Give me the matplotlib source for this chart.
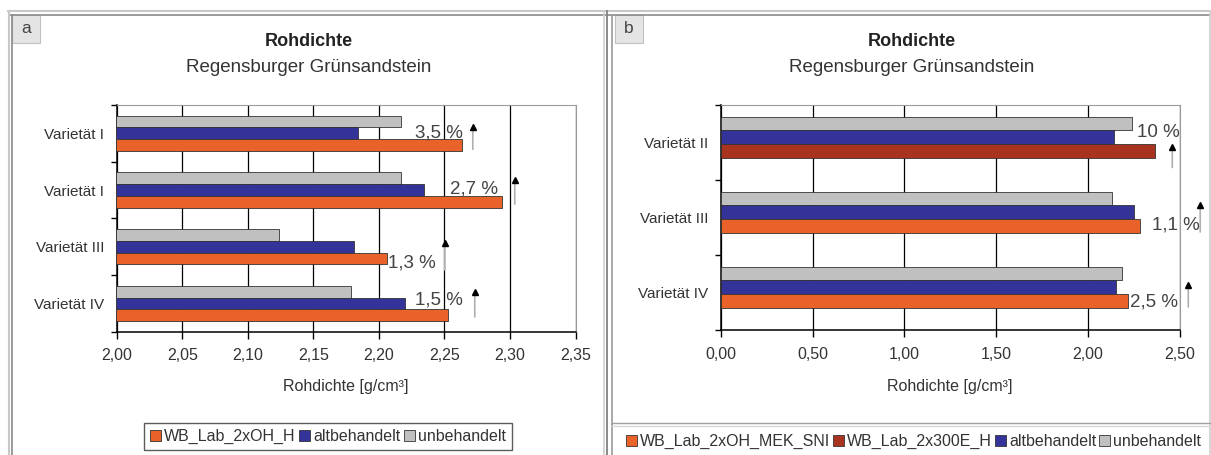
import numpy as np
import matplotlib.pyplot as plt
from matplotlib.lines import Line2D
from matplotlib.patches import Rectangle, Patch
from matplotlib.ticker import FuncFormatter, MultipleLocator, FixedLocator

plt.rcParams['font.family'] = ['Liberation Sans', 'DejaVu Sans']

# Daten Diagramm a
kat_a = ['Varietät I', 'Varietät I', 'Varietät III', 'Varietät IV']
wb_a = [2.263, 2.294, 2.206, 2.253]
alt_a = [2.184, 2.234, 2.181, 2.220]
unb_a = [2.217, 2.217, 2.124, 2.179]
pct_a = ['3,5 %', '2,7 %', '1,3 %', '1,5 %']

# Daten Diagramm b
kat_b = ['Varietät II', 'Varietät III', 'Varietät IV']
wb_b = [np.nan, 2.284, 2.215]
wb300_b = [2.366, np.nan, np.nan]
alt_b = [2.142, 2.251, 2.153]
unb_b = [2.239, 2.130, 2.184]
pct_b = ['10 %', '1,1 %', '2,5 %']

ORANGE = '#e8622a'
BLAU = '#333399'
GRAU = '#c0c0c0'
ROT = '#a8341f'

W, H = 1211, 455
fig = plt.figure(figsize=(W / 100, H / 100), dpi=100)


def fx(px):
    return px / W


def fy(py):
    return 1 - py / H


def komma(v, pos):
    return ('%.2f' % v).replace('.', ',')


def panel(rect, kat, serien, xmin, xmax, step, h, off):
    ax = fig.add_axes(rect)
    y = np.arange(len(kat))
    for slot, liste in enumerate(serien):
        for werte, farbe in liste:
            werte = np.array(werte, dtype=float)
            ok = ~np.isnan(werte)
            ax.barh(y[ok] + off + (slot - 1) * h, werte[ok], height=h,
                    color=farbe, edgecolor='#333333', lw=0.6, zorder=3)
    ax.set_xlim(xmin, xmax)
    ax.set_ylim(len(kat) - 0.5, -0.5)
    ax.xaxis.set_major_locator(MultipleLocator(step))
    ax.xaxis.set_major_formatter(FuncFormatter(komma))
    ax.set_yticks(y)
    ax.set_yticklabels(kat)
    ax.yaxis.set_minor_locator(FixedLocator(np.arange(len(kat) + 1) - 0.5))
    ax.tick_params(axis='y', which='major', length=0, pad=9, labelsize=11, labelcolor='#333333')
    ax.tick_params(axis='y', which='minor', length=4, width=1, color='black', direction='out')
    ax.tick_params(axis='x', length=5, width=1, direction='out', pad=7, labelsize=11.5, labelcolor='#333333')
    ax.xaxis.grid(True, color='black', lw=0.9)
    ax.set_axisbelow(True)
    for s in ['left', 'bottom']:
        ax.spines[s].set_color('black')
        ax.spines[s].set_linewidth(1.1)
    for s in ['top', 'right']:
        ax.spines[s].set_color('#9a9a9a')
        ax.spines[s].set_linewidth(0.8)
    return ax


def pfeil(ax, x, y0, y1):
    ax.annotate('', xy=(x, y1), xytext=(x, y0), annotation_clip=False,
                arrowprops=dict(arrowstyle='-', color='#b0b0b0', lw=1.2))
    ax.plot([x], [y1], marker='^', color='black', ms=5, clip_on=False, zorder=5)


# Panel a
ax_a = panel([fx(116.7), fy(331.7), fx(575.6) - fx(116.7), fy(105) - fy(331.7)],
             kat_a, [[(unb_a, GRAU)], [(alt_a, BLAU)], [(wb_a, ORANGE)]],
             2.0, 2.35, 0.05, 0.206, 0.0)

# Beschriftung (x, y, ha) und Pfeil (x, y unten, y oben)
lab_a = [(2.264, 0.0, 'right'), (2.2906, 0.98, 'right'), (2.2068, 2.29, 'left'), (2.264, 2.94, 'right')]
arr_a = [(2.2716, 0.33, -0.11), (2.3036, 1.30, 0.82), (2.2502, 2.46, 1.93), (2.2731, 3.29, 2.80)]
for t, (x, yy, ha), (xa, y0, y1) in zip(pct_a, lab_a, arr_a):
    ax_a.text(x, yy, t, ha=ha, va='center', fontsize=13.5, color='#444444', zorder=4)
    pfeil(ax_a, xa, y0, y1)

# Panel b
ax_b = panel([fx(720.7), fy(330), fx(1180) - fx(720.7), fy(105) - fy(330)],
             kat_b, [[(unb_b, GRAU)], [(alt_b, BLAU)], [(wb_b, ORANGE), (wb300_b, ROT)]],
             0.0, 2.5, 0.5, 0.182, -0.07)

lab_b = [(2.267, -0.13, 'left'), (2.349, 1.10, 'left'), (2.229, 2.13, 'left')]
arr_b = [(2.458, 0.37, 0.06), (2.610, 1.23, 0.83), (2.545, 2.23, 1.90)]
for t, (x, yy, ha), (xa, y0, y1) in zip(pct_b, lab_b, arr_b):
    ax_b.text(x, yy, t, ha=ha, va='center', fontsize=13.5, color='#444444', zorder=4, clip_on=False)
    pfeil(ax_b, xa, y0, y1)

# Titel und Achsenbeschriftung
for cx, ax_cx in [(309, 346), (912, 950)]:
    fig.text(fx(cx), fy(41.7), 'Rohdichte', ha='center', va='center', fontsize=13,
             fontweight='bold', color='#222222')
    fig.text(fx(cx), fy(67), 'Regensburger Grünsandstein', ha='center', va='center',
             fontsize=13.5, color='#333333')
    fig.text(fx(ax_cx), fy(387), 'Rohdichte [g/cm³]', ha='center', va='center',
             fontsize=11.5, color='#333333')

# Legenden
def quad(c):
    return Patch(facecolor=c, edgecolor='#333333', lw=0.6)


leg_a = fig.legend([quad(ORANGE), quad(BLAU), quad(GRAU)],
                   ['WB_Lab_2xOH_H', 'altbehandelt', 'unbehandelt'],
                   loc='center', bbox_to_anchor=(fx(328), fy(436.5)), ncol=3,
                   frameon=True, fancybox=False, edgecolor='#333333', fontsize=11.5,
                   handlelength=0.7, handleheight=0.7, handletextpad=0.2,
                   columnspacing=0.2, borderpad=0.35, borderaxespad=0)
leg_a.get_frame().set_linewidth(1.0)
for t in leg_a.get_texts():
    t.set_color('#333333')

leg_b = fig.legend([quad(ORANGE), quad(ROT), quad(BLAU), quad(GRAU)],
                   ['WB_Lab_2xOH_MEK_SNI', 'WB_Lab_2x300E_H', 'altbehandelt', 'unbehandelt'],
                   loc='center', bbox_to_anchor=(fx(913.5), fy(441.5)), ncol=4,
                   frameon=False, fontsize=11.5,
                   handlelength=0.7, handleheight=0.7, handletextpad=0.2,
                   columnspacing=0.15, borderpad=0.2, borderaxespad=0)
for t in leg_b.get_texts():
    t.set_color('#333333')

# Rahmen der beiden Diagrammfenster
def linie(x0, y0, x1, y1, c, lw):
    fig.add_artist(Line2D([fx(x0), fx(x1)], [fy(y0), fy(y1)], color=c, lw=lw))


linie(8, 11, 1211, 11, '#c8c8c8', 1.5)
linie(10, 14.5, 1211, 14.5, '#8a8a8a', 1.2)
linie(8.5, 11, 8.5, 455, '#c8c8c8', 1.5)
linie(11.5, 14.5, 11.5, 455, '#8a8a8a', 1.2)
linie(603.5, 11, 603.5, 455, '#d0d0d0', 1.2)
linie(606.5, 11, 606.5, 455, '#8a8a8a', 1.4)
linie(611.5, 14.5, 611.5, 455, '#9a9a9a', 1.2)
linie(1209.5, 11, 1209.5, 455, '#d0d0d0', 1.2)
linie(612, 423, 1211, 423, '#a0a0a0', 1.0)
linie(612, 425.5, 1211, 425.5, '#d8d8d8', 1.0)

for x0, t in [(12, 'a'), (615, 'b')]:
    fig.add_artist(Rectangle((fx(x0), fy(43)), fx(28), 28 / H, transform=fig.transFigure,
                             facecolor='#e4e4e4', edgecolor='#c0c0c0', lw=0.8))
    fig.text(fx(x0 + 14), fy(28.5), t, ha='center', va='center', fontsize=12.5, color='#444444')

fig.savefig('out.png', dpi=100)
